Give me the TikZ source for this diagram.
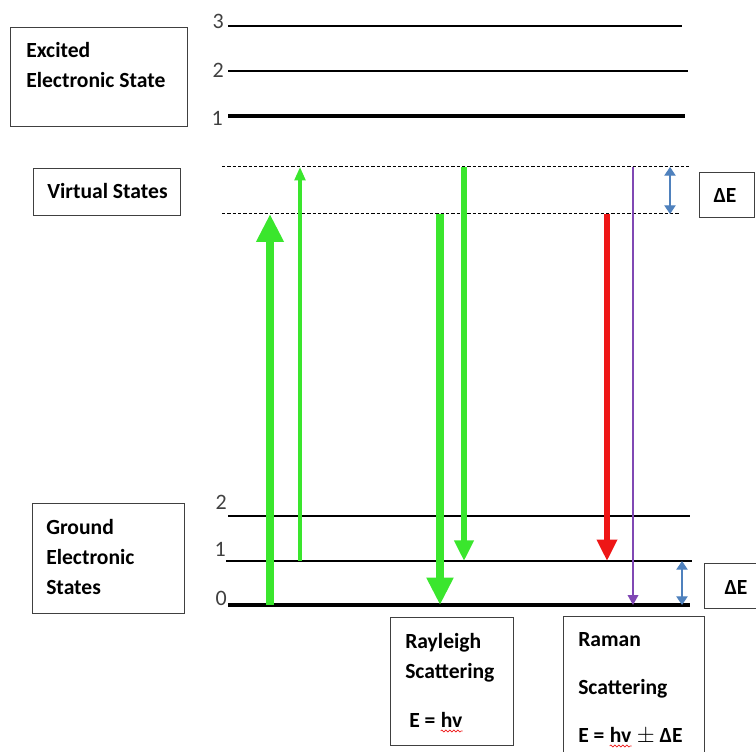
\documentclass[tikz,border=0pt]{standalone}
\usepackage{fontspec}
\setmainfont{Carlito}
\usetikzlibrary{arrows.meta,decorations.pathmorphing}

\definecolor{lasergreen}{RGB}{58,230,45}
\definecolor{stokesred}{RGB}{238,22,22}
\definecolor{ramanpurple}{RGB}{128,72,180}
\definecolor{gapblue}{RGB}{79,129,189}

\begin{document}
\begin{tikzpicture}[
    x=0.75pt, y=-0.75pt,
    level/.style={line width=1.5pt},
    baselevel/.style={line width=3.4pt},
    virtual/.style={line width=0.75pt, dash pattern=on 2.5pt off 1.5pt},
    box/.style={draw=black!75, line width=0.6pt},
    lbl/.style={font=\bfseries\fontsize{16.2}{22.5}\selectfont, align=left, inner sep=0pt},
    num/.style={font=\fontsize{16.5}{18}\selectfont, text=black!75, inner sep=0pt, anchor=east},
    squiggle/.style={stokesred, line width=0.45pt, decorate, decoration={snake, segment length=3pt, amplitude=0.75pt}}
  ]
  \useasboundingbox (0,0) rectangle (756,752);

  % Boxen
  \draw[box] (10,27) rectangle (187,126);
  \draw[box] (33,168) rectangle (180,215);
  \draw[box] (32,503) rectangle (184,613);
  \draw[box] (699,172) rectangle (754,217);
  \draw[box] (704,563) rectangle (760,608);
  \draw[box] (390,617) rectangle (513,745);
  \draw[box] (563,616) rectangle (704,760);

  % Texte
  \node[lbl, anchor=west] (exctxt) at (26,65) {Excited\\Electronic State};
  \node[lbl, anchor=west] (virttxt) at (47,191) {Virtual States};
  \node[lbl, anchor=west] (gndtxt) at (46,557) {Ground\\Electronic\\States};
  \node[lbl] (detop) at (725,195) {ΔE};
  \node[lbl] (debot) at (736,587) {ΔE};

  \node[lbl, anchor=base west] (raytxt) at (405,678) {Rayleigh\\Scattering};
  \node[lbl, anchor=base west] (rayE) at (409,727) {E =~};
  \node[lbl, anchor=base west] (rayhv) at (rayE.base east) {hv};
  \draw[squiggle] ([yshift=-3pt]rayhv.base west) -- ([yshift=-3pt]rayhv.base east);

  \node[lbl, anchor=base west] (ramtxt) at (578,694) {Raman\\[13.5pt]Scattering};
  \node[lbl, anchor=base west] (ramE) at (578,742) {E =~};
  \node[lbl, anchor=base west] (ramhv) at (ramE.base east) {hv};
  \node[lbl, anchor=base west] (ramde) at (ramhv.base east) {~{\mdseries$\pm$}~ΔE};
  \draw[squiggle] ([yshift=-3pt]ramhv.base west) -- ([yshift=-3pt]ramhv.base east);

  % angeregter Zustand
  \coordinate (e3a) at (228,26);  \coordinate (e3b) at (682,26);
  \coordinate (e2a) at (228,71);  \coordinate (e2b) at (688,71);
  \coordinate (e1a) at (228,116); \coordinate (e1b) at (685,116);
  \draw[level] (e3a) -- (e3b);
  \draw[level] (e2a) -- (e2b);
  \draw[baselevel] (e1a) -- (e1b);
  \node[num] (n3) at (224,21) {3};
  \node[num] (n2) at (224,70) {2};
  \node[num] (n1) at (223,118) {1};

  % virtuelle Zustaende
  \coordinate (vhi) at (222,167);  \coordinate (vhib) at (690,167);
  \coordinate (vlo) at (222,214);  \coordinate (vlob) at (680,214);
  \draw[virtual] (vhi) -- (vhib);
  \draw[virtual] (vlo) -- (vlob);

  % Grundzustand
  \coordinate (g2a) at (228,516); \coordinate (g2b) at (690,516);
  \coordinate (g1a) at (226,561); \coordinate (g1b) at (692,561);
  \coordinate (g0a) at (228,605); \coordinate (g0b) at (690,605);
  \draw[level] (g2a) -- (g2b);
  \draw[level] (g1a) -- (g1b);
  \draw[baselevel] (g0a) -- (g0b);
  \node[num] (m2) at (227,502) {2};
  \node[num] (m1) at (226,549) {1};
  \node[num] (m0) at (227,598) {0};

  % Spalten der Pfeile
  \coordinate (cA) at (270,0);
  \coordinate (cB) at (300,0);
  \coordinate (cC) at (440,0);
  \coordinate (cD) at (464,0);
  \coordinate (cE) at (607,0);
  \coordinate (cF) at (633,0);
  \coordinate (cG) at (670,0);
  \coordinate (cH) at (682,0);

  % Anregung
  \draw[lasergreen, line width=6.2pt, -{Triangle[width=19.5pt,length=21pt]}] (cA |- g0a) -- (cA |- vlo);
  \draw[lasergreen, line width=2.3pt, -{Triangle[width=8pt,length=10pt]}] (cB |- g1a) -- (cB |- vhi);

  % Rayleigh
  \draw[lasergreen, line width=6.4pt, -{Triangle[width=19pt,length=20.5pt]}] (cC |- vlo) -- (cC |- g0a);
  \draw[lasergreen, line width=5pt, -{Triangle[width=14pt,length=15.5pt]}] (cD |- vhi) -- (cD |- g1a);

  % Raman
  \draw[stokesred, line width=5.2pt, -{Triangle[width=14.5pt,length=16pt]}] (cE |- vlo) -- (cE |- g1a);
  \draw[ramanpurple, line width=1.1pt, -{Triangle[width=8pt,length=7.5pt]}] (cF |- vhi) -- (cF |- g0a);

  % Delta E
  \draw[gapblue, line width=0.9pt, {Triangle[width=8.5pt,length=6.5pt]}-{Triangle[width=8.5pt,length=6.5pt]}] (cG |- vhi) -- (cG |- vlo);
  \draw[gapblue, line width=0.9pt, {Triangle[width=8.5pt,length=6.5pt]}-{Triangle[width=8.5pt,length=6.5pt]}] (cH |- g1a) -- (cH |- g0a);
\end{tikzpicture}
\end{document}
